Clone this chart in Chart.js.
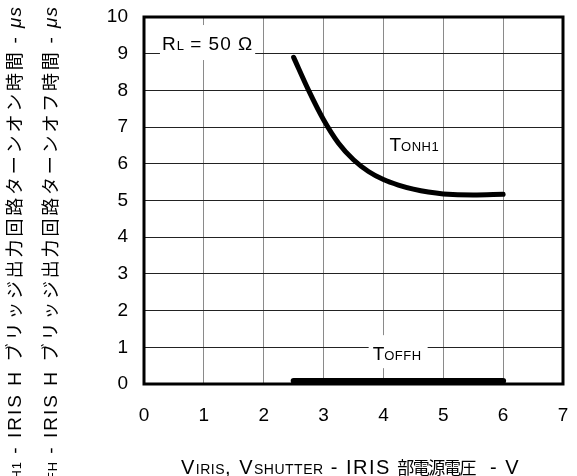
<!DOCTYPE html>
<html>
<head>
<meta charset="utf-8">
<script src="https://cdn.jsdelivr.net/npm/chart.js@4.4.1/dist/chart.umd.min.js"></script>
<style>
  html, body { margin: 0; padding: 0; background: #fff; }
  #wrap { width: 577px; height: 476px; }
</style>
</head>
<body>
<div id="wrap"><canvas id="chartC" width="577" height="476"></canvas></div>
<script>
// 読み取り値（グラフより推定）
const vIris   = [2.5, 2.75, 3, 3.25, 3.5, 3.75, 4, 4.25, 4.5, 4.75, 5, 5.5, 6];
const tOnH1   = [8.9, 8.0, 7.2, 6.56, 6.11, 5.79, 5.57, 5.42, 5.31, 5.23, 5.18, 5.15, 5.17];
const vIrisOff = [2.5, 6];
const tOffH    = [0.08, 0.08];
const xTicks  = [0, 1, 2, 3, 4, 5, 6, 7];
const yTicks  = [0, 1, 2, 3, 4, 5, 6, 7, 8, 9, 10];

const FONT = "'Liberation Sans', 'Noto Sans CJK JP', sans-serif";
const fontOf = (size, italic) => (italic ? 'italic ' : '') + size + 'px ' + FONT;

// 添字付きテキスト用ヘルパ（ls = 字間）
function segWidth(ctx, s) {
  ctx.font = fontOf(s.size, s.italic);
  ctx.letterSpacing = (s.ls || 0) + 'px';
  const w = s.adv ? [...s.t].length * s.adv : ctx.measureText(s.t).width;
  ctx.letterSpacing = '0px';
  return w;
}
function richWidth(ctx, segs) {
  return segs.reduce((w, s) => w + segWidth(ctx, s), 0);
}
function drawRich(ctx, segs, x, y) {
  let cx = x;
  segs.forEach(s => {
    ctx.font = fontOf(s.size, s.italic);
    if (s.adv) {
      ctx.letterSpacing = '0px';
      [...s.t].forEach(ch => {
        const w = ctx.measureText(ch).width;
        ctx.fillText(ch, cx + (s.adv - w) / 2, y + (s.dy || 0));
        cx += s.adv;
      });
    } else {
      ctx.letterSpacing = (s.ls || 0) + 'px';
      ctx.fillText(s.t, cx, y + (s.dy || 0));
      cx += ctx.measureText(s.t).width;
      ctx.letterSpacing = '0px';
    }
  });
}

const yTitle1 = [
  { t: 'T', size: 19, ls: 2 }, { t: 'ONH1', size: 13, ls: 1 },
  { t: ' - IRIS H ', size: 19, ls: 2 },
  { t: 'ブリッジ出力回路ターンオン時間', size: 18, adv: 20.8 },
  { t: ' - ', size: 19, ls: 2 }, { t: 'μs', size: 19, italic: true, ls: 1 },
];
const yTitle2 = [
  { t: 'T', size: 19, ls: 2 }, { t: 'OFFH', size: 13, ls: 1 },
  { t: ' - IRIS H ', size: 19, ls: 2 },
  { t: 'ブリッジ出力回路ターンオフ時間', size: 18, adv: 20.8 },
  { t: ' - ', size: 19, ls: 2 }, { t: 'μs', size: 19, italic: true, ls: 1 },
];
const xTitle = [
  { t: 'V', size: 20, ls: 1.5 }, { t: 'IRIS', size: 14, ls: 0.5 },
  { t: ', V', size: 20, ls: 1.5 }, { t: 'SHUTTER', size: 14, ls: 0.5 },
  { t: ' - IRIS ', size: 20, ls: 1.5 },
  { t: '部電源電圧', size: 17, adv: 15.6 },
  { t: '  - V', size: 20, ls: 1.5 },
];
const rlLabel   = [{ t: 'R', size: 19, ls: 1 }, { t: 'L', size: 13 }, { t: ' = 50 Ω', size: 19, ls: 1 }];
const onLabel   = [{ t: 'T', size: 19 }, { t: 'ONH1', size: 13, ls: 0.5 }];
const offLabel  = [{ t: 'T', size: 19 }, { t: 'OFFH', size: 13, ls: 0.5 }];

// 枠・注記・軸タイトル
const decor = {
  id: 'decor',
  beforeDatasetsDraw(chart) {
    const { ctx, chartArea: a, scales: { x, y } } = chart;
    ctx.save();
    ctx.lineWidth = 3;
    ctx.strokeStyle = '#000';
    ctx.strokeRect(a.left, a.top, a.right - a.left, a.bottom - a.top);

    ctx.textBaseline = 'alphabetic';
    const boxLabel = (segs, xv, yv, pl, pr, pt, pb) => {
      const px = x.getPixelForValue(xv), py = y.getPixelForValue(yv);
      const w = richWidth(ctx, segs);
      ctx.fillStyle = '#fff';
      ctx.fillRect(px - pl, py - 14 - pt, w + pl + pr, 14 + pt + pb);
      ctx.fillStyle = '#000';
      drawRich(ctx, segs, px, py);
    };
    boxLabel(rlLabel, 0.3, 9.1, 2, 2, 11, 10);
    boxLabel(onLabel, 4.1, 6.35, 3, 3, 4, 4);
    boxLabel(offLabel, 3.82, 0.65, 4, 6, 11, 8);
    ctx.restore();
  },
  afterDraw(chart) {
    const { ctx, chartArea: a } = chart;
    ctx.save();
    ctx.fillStyle = '#000';
    ctx.textBaseline = 'alphabetic';
    // X 軸タイトル
    const xw = richWidth(ctx, xTitle);
    drawRich(ctx, xTitle, (a.left + a.right) / 2 - 3 - xw / 2, 474);
    // Y 軸タイトル（2 行、下から上へ）
    [[yTitle1, 21], [yTitle2, 57]].forEach(([segs, bx]) => {
      const w = richWidth(ctx, segs);
      ctx.save();
      ctx.translate(bx, 6);
      ctx.rotate(-Math.PI / 2);
      drawRich(ctx, segs, -w, 0);
      ctx.restore();
    });
    ctx.restore();
  },
};

new Chart(document.getElementById('chartC'), {
  type: 'scatter',
  data: {
    datasets: [
      {
        label: 'TONH1',
        data: vIris.map((v, i) => ({ x: v, y: tOnH1[i] })),
        showLine: true,
        borderColor: '#000',
        borderWidth: 5,
        pointRadius: 0,
        borderCapStyle: 'round',
        cubicInterpolationMode: 'monotone',
        fill: false,
      },
      {
        label: 'TOFFH',
        data: vIrisOff.map((v, i) => ({ x: v, y: tOffH[i] })),
        showLine: true,
        borderColor: '#000',
        borderWidth: 6,
        pointRadius: 0,
        borderCapStyle: 'round',
        fill: false,
      },
    ],
  },
  options: {
    responsive: false,
    animation: false,
    layout: { padding: { top: 17, right: 14, left: 0, bottom: 0 } },
    plugins: { legend: { display: false }, tooltip: { enabled: false } },
    scales: {
      x: {
        type: 'linear',
        min: xTicks[0],
        max: xTicks[xTicks.length - 1],
        afterBuildTicks: s => { s.ticks = xTicks.map(v => ({ value: v })); },
        afterFit: s => { s.height = 92; s.paddingLeft = 0; s.paddingRight = 0; },
        ticks: { color: '#000', font: { family: FONT, size: 19 }, padding: 20 },
        grid: { color: '#8a8a8a', lineWidth: 1, drawTicks: false },
        border: { display: false },
      },
      y: {
        min: yTicks[0],
        max: yTicks[yTicks.length - 1],
        afterBuildTicks: s => { s.ticks = yTicks.map(v => ({ value: v })); },
        afterFit: s => { s.width = 144; s.paddingTop = 0; s.paddingBottom = 0; },
        ticks: { color: '#000', font: { family: FONT, size: 19 }, padding: 16 },
        grid: { color: '#222', lineWidth: 1, drawTicks: false },
        border: { display: false },
      },
    },
  },
  plugins: [decor],
});
</script>
</body>
</html>
